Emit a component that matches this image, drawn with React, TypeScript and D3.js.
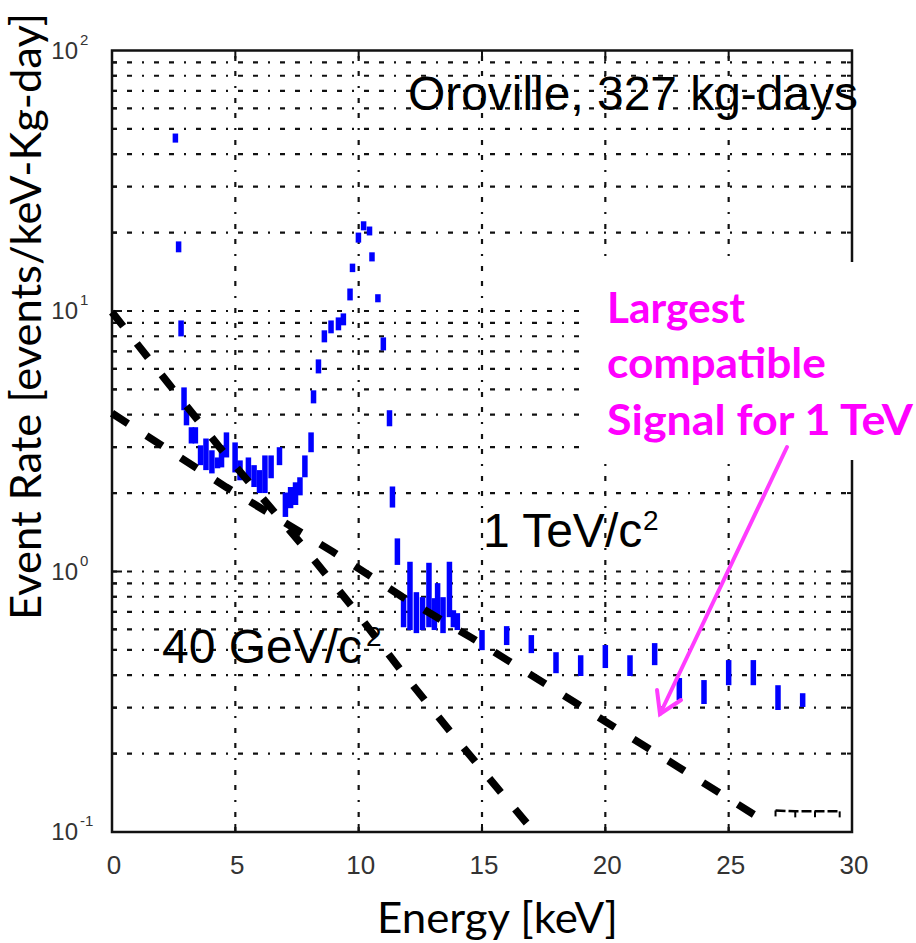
import React from "react";
import * as d3 from "d3";

// ---- data ----
const energies = [2.57, 2.70, 2.80, 2.92, 3.02, 3.22, 3.38, 3.59, 3.81, 4.05, 4.28, 4.44, 4.64, 4.99, 5.19, 5.53, 5.76, 5.98, 6.20, 6.45, 6.79, 7.03, 7.24, 7.44, 7.62, 7.82, 8.07, 8.17, 8.37, 8.61, 8.88, 9.18, 9.38, 9.65, 9.75, 9.99, 10.2, 10.44, 10.54, 10.78, 11.0, 11.25, 11.37, 11.57, 11.82, 12.08, 12.34, 12.59, 12.85, 13.07, 13.2, 13.42, 13.68, 13.84, 14.0, 15, 16, 17, 18, 19, 20, 21, 22, 23, 24, 25, 26, 27, 28];
const rateLow = [44.3, 16.8, 7.99, 4.16, 3.64, 3.10, 3.10, 2.56, 2.45, 2.38, 2.49, 2.51, 2.74, 2.40, 2.24, 2.24, 2.11, 2.00, 2.00, 2.28, 2.56, 1.62, 1.75, 1.80, 1.96, 2.30, 2.87, 4.42, 5.76, 7.58, 8.21, 8.43, 8.81, 10.98, 14.1, 18.3, 20.4, 19.5, 15.5, 10.8, 7.06, 3.61, 1.76, 1.06, 0.611, 0.596, 0.580, 0.596, 0.611, 0.596, 0.650, 0.580, 0.668, 0.611, 0.596, 0.499, 0.522, 0.486, 0.407, 0.397, 0.426, 0.397, 0.437, 0.321, 0.310, 0.366, 0.366, 0.294, 0.302];
const rateHigh = [48.0, 18.5, 9.20, 5.09, 4.16, 3.58, 3.58, 3.05, 3.24, 2.92, 2.74, 3.05, 3.42, 3.13, 2.67, 2.74, 2.56, 2.45, 2.79, 2.79, 3.00, 2.01, 2.11, 2.20, 2.30, 2.79, 3.42, 4.96, 6.52, 8.43, 9.20, 9.45, 9.79, 12.2, 15.2, 20.0, 22.1, 21.1, 16.8, 11.6, 7.92, 4.16, 2.12, 1.34, 0.797, 1.09, 0.833, 0.797, 1.08, 0.790, 0.902, 0.797, 1.09, 0.710, 0.692, 0.596, 0.617, 0.570, 0.490, 0.477, 0.522, 0.477, 0.531, 0.390, 0.383, 0.457, 0.457, 0.366, 0.341];

const gev40Energy = [0, 2.35, 4.46, 7.66, 9.85, 11.8, 14.0, 17.0];
const gev40Rate = [9.9, 5.18, 2.92, 1.28, 0.71, 0.407, 0.225, 0.103];

const tev1Energy = [0, 4.62, 8.96, 11.76, 14.6, 20.3, 23.15, 26.07, 26.6];
const tev1Rate = [4.05, 2.11, 1.19, 0.80, 0.555, 0.255, 0.173, 0.116, 0.113];

const tailEnergy = [26.9, 27.7, 28.5, 29.5];
const tailRate = [0.121, 0.12, 0.12, 0.12];

const xTicks = [0, 5, 10, 15, 20, 25, 30];
const yDecades = [0.1, 1, 10, 100];
const yExponents = ["-1", "0", "1", "2"];

const W = 916, H = 943;
const x = d3.scaleLinear().domain([0, 30]).range([112, 852]);
const y = d3.scaleLog().domain([0.1, 100]).range([832, 50.5]);

const minorVals: number[] = [];
[0.1, 1, 10].forEach((d) => {
  for (let k = 2; k <= 9; k++) minorVals.push(d * k);
});
const gridH = [...minorVals, 1, 10];
const gridV = [5, 10, 15, 20, 25];

const line = d3
  .line<[number, number]>()
  .x((d) => x(d[0]))
  .y((d) => y(d[1]));

const gridDash = "5,10,5,10,2,10";
const magenta = "#ff00ff";

export default function App() {
  const g40 = gev40Energy.map((e, i) => [e, gev40Rate[i]] as [number, number]);
  const t1 = tev1Energy.map((e, i) => [e, tev1Rate[i]] as [number, number]);
  const tail = tailEnergy.map((e, i) => [e, tailRate[i]] as [number, number]);
  const [x0, x1] = x.range();
  const [y0, y1] = y.range();
  return (
    <svg
      width={W}
      height={H}
      style={{ position: "absolute", left: 0, top: 0, background: "#fff" }}
    >
      <rect x={0} y={0} width={W} height={H} fill="#fff" />
      {/* grid */}
      <g stroke="#111" strokeWidth={2.2} strokeDasharray={gridDash}>
        {gridH.map((v, i) => (
          <line key={"h" + i} x1={x0} x2={x1} y1={y(v)} y2={y(v)} />
        ))}
        {gridV.map((v, i) => (
          <line key={"v" + i} x1={x(v)} x2={x(v)} y1={y0} y2={y1} />
        ))}
      </g>
      {/* ticks */}
      <g stroke="#111" strokeWidth={2}>
        {minorVals.map((v, i) => (
          <g key={"mt" + i}>
            <line x1={x0} x2={x0 + 5} y1={y(v)} y2={y(v)} />
            <line x1={x1} x2={x1 - 5} y1={y(v)} y2={y(v)} />
          </g>
        ))}
        {[1, 10].map((v, i) => (
          <g key={"Mt" + i}>
            <line x1={x0} x2={x0 + 10} y1={y(v)} y2={y(v)} />
            <line x1={x1} x2={x1 - 10} y1={y(v)} y2={y(v)} />
          </g>
        ))}
        {gridV.map((v, i) => (
          <g key={"xt" + i}>
            <line x1={x(v)} x2={x(v)} y1={y0} y2={y0 - 8} />
            <line x1={x(v)} x2={x(v)} y1={y1} y2={y1 + 8} />
          </g>
        ))}
      </g>
      {/* frame */}
      <rect
        x={x0}
        y={y1}
        width={x1 - x0}
        height={y0 - y1}
        fill="none"
        stroke="#111"
        strokeWidth={2.5}
      />
      {/* data bars */}
      <g fill="#0000ff">
        {energies.map((e, i) => (
          <rect
            key={"b" + i}
            x={x(e) - 2.75}
            width={5.5}
            y={y(rateHigh[i])}
            height={Math.max(3, y(rateLow[i]) - y(rateHigh[i]))}
          />
        ))}
      </g>
      {/* signal curves */}
      <path
        d={line(g40) || ""}
        fill="none"
        stroke="#000"
        strokeWidth={7.5}
        strokeDasharray="18,22"
      />
      <path
        d={line(t1) || ""}
        fill="none"
        stroke="#000"
        strokeWidth={7.5}
        strokeDasharray="19,22"
      />
      <path
        d={line(tail) || ""}
        fill="none"
        stroke="#000"
        strokeWidth={2.5}
        strokeDasharray="10,3"
      />
      {tail.map((d, i) => (
        <line
          key={"tt" + i}
          x1={x(d[0])}
          x2={x(d[0])}
          y1={y(d[1])}
          y2={y(d[1]) + 6}
          stroke="#000"
          strokeWidth={2}
        />
      ))}
      {/* tick labels */}
      <g fontFamily="'Liberation Sans', Arial, sans-serif" fill="#333">
        {xTicks.map((t) => (
          <text key={"xl" + t} x={x(t) + 2} y={874} fontSize={26} textAnchor="middle">
            {t}
          </text>
        ))}
        {yDecades.map((v, i) => (
          <g key={"yl" + i}>
            <text x={78} y={y(v) + 8} fontSize={24} textAnchor="end">
              10
            </text>
            <text x={80} y={y(v) - 6} fontSize={15} textAnchor="start">
              {yExponents[i]}
            </text>
          </g>
        ))}
      </g>
      {/* in-plot annotations */}
      <g fontFamily="'Liberation Sans', Arial, sans-serif" fill="#000">
        <text x={408} y={110} fontSize={48} textLength={450} lengthAdjust="spacingAndGlyphs">
          Oroville, 327 kg-days
        </text>
        <text x={483} y={547} fontSize={48}>
          1 TeV/c
        </text>
        <text x={643} y={530} fontSize={28}>
          2
        </text>
        <text x={162} y={663} fontSize={48}>
          40 GeV/c
        </text>
        <text x={366} y={646} fontSize={28}>
          2
        </text>
      </g>
      {/* magenta callout */}
      <rect x={583} y={262} width={340} height={198} fill="#fff" />
      <g fontFamily="Lato, 'Open Sans', sans-serif" fontWeight="bold" fill={magenta} fontSize={42}>
        <text x={607} y={323} textLength={138} lengthAdjust="spacingAndGlyphs">
          Largest
        </text>
        <text x={607} y={378} textLength={219} lengthAdjust="spacingAndGlyphs">
          compatible
        </text>
        <text x={607} y={435} textLength={306} lengthAdjust="spacingAndGlyphs">
          Signal for 1 TeV
        </text>
      </g>
      <g stroke="#ff3cff" strokeWidth={4} strokeLinecap="round" fill="none">
        <line x1={787} y1={447} x2={660} y2={714} />
        <polyline points="657,690 660,714 681,700" />
      </g>
      {/* axis titles */}
      <g fontFamily="Lato, 'Open Sans', sans-serif" fill="#000" fontSize={42}>
        <text x={497.5} y={933} textAnchor="middle" textLength={241} lengthAdjust="spacingAndGlyphs">
          Energy [keV]
        </text>
        <text
          transform="translate(41,316.5) rotate(-90)"
          textAnchor="middle"
          textLength={607}
          lengthAdjust="spacingAndGlyphs"
        >
          Event Rate [events/keV-Kg-day]
        </text>
      </g>
    </svg>
  );
}
